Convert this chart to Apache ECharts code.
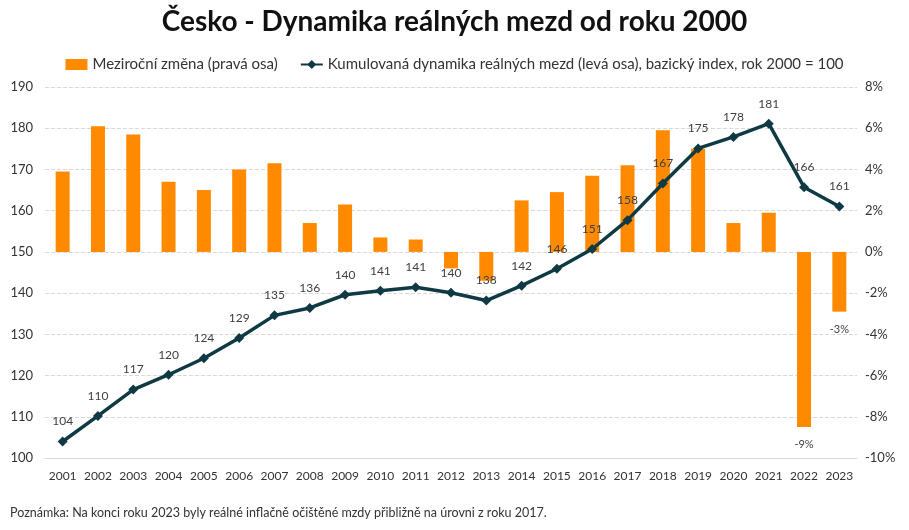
<!DOCTYPE html>
<html><head><meta charset="utf-8">
<script src="https://cdn.jsdelivr.net/npm/echarts@6/dist/echarts.min.js"></script>
<style>html,body{margin:0;padding:0;background:#fff}#c{width:909px;height:530px}</style>
</head><body><div id="c"></div>
<script>
const years = ['2001','2002','2003','2004','2005','2006','2007','2008','2009','2010','2011','2012','2013','2014','2015','2016','2017','2018','2019','2020','2021','2022','2023'];
const yoyChange = [3.9,6.1,5.7,3.4,3.0,4.0,4.3,1.4,2.3,0.7,0.6,-0.8,-1.4,2.5,2.9,3.7,4.2,5.9,5.0,1.4,1.9,-8.5,-2.9];
const cumulative = [104.0,110.2,116.6,120.2,124.2,129.1,134.6,136.4,139.6,140.6,141.4,140.1,138.2,141.8,145.9,150.7,157.7,166.6,175.1,177.9,181.1,165.7,161.0];
const cumLabels = ['104','110','117','120','124','129','135','136','140','141','141','140','138','142','146','151','158','167','175','178','181','166','161'];
const barLabels = {'2022':'-9%','2023':'-3%'};
const leftTicks = {min:100,max:190,interval:10};
const rightTicks = {min:-10,max:8,interval:2};

const FONT = 'Lato, "Open Sans", sans-serif';
const chart = echarts.init(document.getElementById('c'));
chart.setOption({
  animation:false,
  backgroundColor:'#fff',
  textStyle:{fontFamily:FONT},
  title:{text:'Česko - Dynamika reálných mezd od roku 2000',left:'center',top:3,
    textStyle:{fontSize:28,fontWeight:'bold',color:'#111',fontFamily:FONT}},
  legend:{top:52,left:'center',itemGap:22,itemWidth:22,itemHeight:11,
    textStyle:{fontSize:15,color:'#333',fontFamily:FONT},
    data:[{name:'Meziroční změna (pravá osa)',icon:'rect'},
          {name:'Kumulovaná dynamika reálných mezd (levá osa), bazický index, rok 2000 = 100'}]},
  graphic:[{type:'text',left:10,top:506,style:{text:'Poznámka: Na konci roku 2023 byly reálné inflačně očištěné mzdy přibližně na úrovni z roku 2017.',fontSize:12.5,fill:'#333',fontFamily:FONT}}],
  grid:{left:45,right:52,top:87,bottom:72},
  xAxis:{type:'category',data:years,
    axisLine:{onZero:false,lineStyle:{color:'#d9d9d9'}},axisTick:{show:false},
    axisLabel:{color:'#333',fontSize:12,margin:12,interval:0}},
  yAxis:[
    {type:'value',position:'left',min:leftTicks.min,max:leftTicks.max,interval:leftTicks.interval,
     axisLabel:{color:'#333',fontSize:13,margin:12},
     splitLine:{lineStyle:{color:'#d9d9d9',type:'dashed'}},axisLine:{show:false},axisTick:{show:false}},
    {type:'value',position:'right',min:rightTicks.min,max:rightTicks.max,interval:rightTicks.interval,
     axisLabel:{color:'#333',fontSize:13,margin:8,formatter:'{value}%'},
     splitLine:{show:false},axisLine:{show:false},axisTick:{show:false}}
  ],
  series:[
    {name:'Meziroční změna (pravá osa)',type:'bar',yAxisIndex:1,barWidth:14,
     itemStyle:{color:'#ff8a00'},
     data:yoyChange.map((v,i)=>({value:v,label:{show:!!barLabels[years[i]],position:'bottom',distance:12,
       formatter:barLabels[years[i]]||'',color:'#404040',fontSize:11}})),
     z:1},
    {name:'Kumulovaná dynamika reálných mezd (levá osa), bazický index, rok 2000 = 100',type:'line',yAxisIndex:0,
     data:cumulative,symbol:'diamond',symbolSize:10,
     lineStyle:{color:'#0f3a44',width:3.5},itemStyle:{color:'#0f3a44'},
     label:{show:true,position:'top',distance:9,color:'#404040',fontSize:12,
       formatter:p=>cumLabels[p.dataIndex]},
     z:3}
  ]
});
</script></body></html>
